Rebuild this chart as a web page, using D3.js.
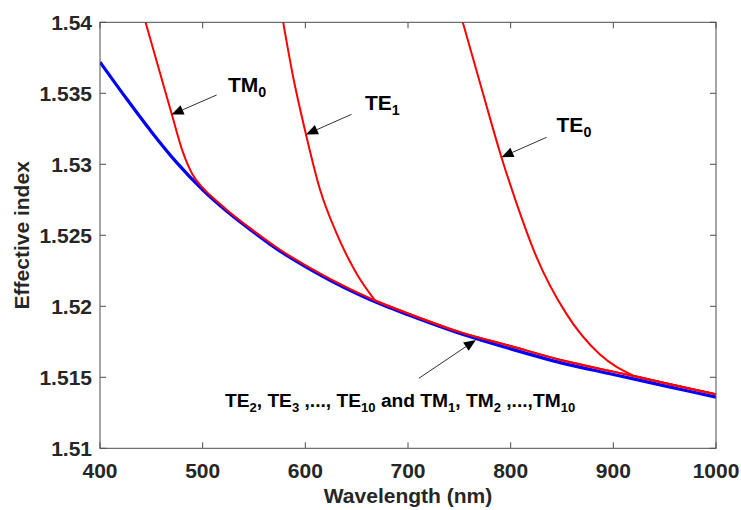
<!DOCTYPE html>
<html>
<head>
<meta charset="utf-8">
<script src="https://cdn.jsdelivr.net/npm/d3@7"></script>
<style>
  html, body { margin: 0; padding: 0; background: #fff; }
  svg { display: block; font-family: "Liberation Sans", Arial, sans-serif; }
</style>
</head>
<body>
<svg id="chart" width="741" height="510"></svg>
<script>
// Higher-order modes (TE2..TE10, TM1..TM10) share one curve
const wavelength = [400, 425, 450, 475, 500, 525, 550, 575, 600, 625, 650, 675, 700, 750, 800, 850, 900, 950, 1000];
const higherIndex = [1.5372, 1.5347, 1.5323, 1.5301, 1.5282, 1.5266, 1.5252, 1.5239, 1.5228, 1.5218, 1.5209, 1.5201, 1.5194, 1.5181, 1.5170, 1.5160, 1.5152, 1.5144, 1.5136];

// Common tail followed by TM0, TE1 and TE0 after they join the lower branch
const tailWavelength = [506, 525, 550, 575, 600, 625, 650, 675, 700, 750, 800, 850, 900, 950, 1000];
const tailIndex = [1.5279, 1.5267, 1.5253, 1.5240, 1.5229, 1.5219, 1.5210, 1.5202, 1.5195, 1.5182, 1.5172, 1.5162, 1.5154, 1.5146, 1.5138];

// Steep branches of the low-order modes, ending where each meets the tail
const tm0Wavelength = [442, 457, 470, 481, 490, 500, 506];
const tm0Index = [1.5406, 1.5368, 1.5335, 1.5308, 1.5293, 1.52835, 1.5279];
const te1Wavelength = [577, 588, 600, 614, 630, 650, 668];
const te1Index = [1.5406, 1.5362, 1.5323, 1.5283, 1.5252, 1.5223, 1.5204];
const te0Wavelength = [751, 773, 791, 806, 825, 854, 887, 920];
const te0Index = [1.5406, 1.5350, 1.5305, 1.5272, 1.5235, 1.5195, 1.5166, 1.5151];

const xTicks = [400, 500, 600, 700, 800, 900, 1000];
const yTicks = [1.51, 1.515, 1.52, 1.525, 1.53, 1.535, 1.54];
const yTickLabels = ["1.51", "1.515", "1.52", "1.525", "1.53", "1.535", "1.54"];

// Arrow annotations: [tail wavelength, tail index, tip wavelength, tip index]
const arrows = [
  [513.6, 1.53488, 469.7, 1.53350],
  [645.0, 1.53352, 600.6, 1.53210],
  [835.0, 1.53190, 791.0, 1.53050],
  [710.6, 1.51493, 766.1, 1.51763]
];

const svg = d3.select("#chart");
const plotLeft = 100, plotRight = 716, plotTop = 22.3, plotBottom = 448.3;

const x = d3.scaleLinear().domain([400, 1000]).range([plotLeft, plotRight]);
const y = d3.scaleLinear().domain([1.51, 1.54]).range([plotBottom, plotTop]);

svg.append("defs").append("clipPath").attr("id", "plotClip")
  .append("rect").attr("x", plotLeft).attr("y", plotTop)
  .attr("width", plotRight - plotLeft).attr("height", plotBottom - plotTop);

const line = d3.line().x(d => x(d[0])).y(d => y(d[1])).curve(d3.curveMonotoneX);
const zip = (a, b) => a.map((v, i) => [v, b[i]]);

const plot = svg.append("g").attr("clip-path", "url(#plotClip)");

plot.append("path")
  .attr("d", line(zip(wavelength, higherIndex)))
  .attr("fill", "none").attr("stroke", "#0000ff").attr("stroke-width", 3.2);

function modePaths(wl, idx) {
  const steep = zip(wl, idx);
  const join = steep[steep.length - 1];
  const tail = [join].concat(zip(tailWavelength, tailIndex).filter(p => p[0] > join[0] + 2));
  [steep, tail].forEach(seg => {
    plot.append("path")
      .attr("d", line(seg))
      .attr("fill", "none").attr("stroke", "#ff0000").attr("stroke-width", 2)
      .attr("stroke-linejoin", "round");
  });
}
modePaths(tm0Wavelength, tm0Index);
modePaths(te1Wavelength, te1Index);
modePaths(te0Wavelength, te0Index);

// Box and ticks (inside, on all four sides)
const axisColor = "#4d4d4d";
svg.append("rect").attr("x", plotLeft).attr("y", plotTop)
  .attr("width", plotRight - plotLeft).attr("height", plotBottom - plotTop)
  .attr("fill", "none").attr("stroke", axisColor).attr("stroke-width", 1);

const tickLen = 6;
xTicks.forEach(t => {
  svg.append("line").attr("x1", x(t)).attr("x2", x(t)).attr("y1", plotBottom).attr("y2", plotBottom - tickLen)
    .attr("stroke", axisColor);
  svg.append("line").attr("x1", x(t)).attr("x2", x(t)).attr("y1", plotTop).attr("y2", plotTop + tickLen)
    .attr("stroke", axisColor);
  svg.append("text").attr("x", x(t)).attr("y", plotBottom + 30)
    .attr("text-anchor", "middle").attr("font-size", 21).attr("font-weight", "bold")
    .attr("fill", "#262626").text(t);
});
yTicks.forEach((t, i) => {
  svg.append("line").attr("x1", plotLeft).attr("x2", plotLeft + tickLen).attr("y1", y(t)).attr("y2", y(t))
    .attr("stroke", axisColor);
  svg.append("line").attr("x1", plotRight).attr("x2", plotRight - tickLen).attr("y1", y(t)).attr("y2", y(t))
    .attr("stroke", axisColor);
  svg.append("text").attr("x", plotLeft - 8).attr("y", y(t) + 7.5)
    .attr("text-anchor", "end").attr("font-size", 21).attr("font-weight", "bold")
    .attr("fill", "#262626").text(yTickLabels[i]);
});

svg.append("text").attr("x", (plotLeft + plotRight) / 2).attr("y", 503)
  .attr("text-anchor", "middle").attr("font-size", 21).attr("font-weight", "bold")
  .attr("fill", "#262626").text("Wavelength (nm)");
svg.append("text")
  .attr("transform", `translate(29,${(plotTop + plotBottom) / 2}) rotate(-90)`)
  .attr("text-anchor", "middle").attr("font-size", 21).attr("font-weight", "bold")
  .attr("fill", "#262626").text("Effective index");

// Arrows with filled triangular heads
arrows.forEach(([x0, y0, x1, y1]) => {
  const ax = x(x0), ay = y(y0), bx = x(x1), by = y(y1);
  const ang = Math.atan2(by - ay, bx - ax);
  const headLen = 12, headW = 5;
  const baseX = bx - headLen * Math.cos(ang), baseY = by - headLen * Math.sin(ang);
  svg.append("line").attr("x1", ax).attr("y1", ay).attr("x2", baseX).attr("y2", baseY)
    .attr("stroke", "#333").attr("stroke-width", 1);
  const px = -Math.sin(ang) * headW, py = Math.cos(ang) * headW;
  svg.append("path")
    .attr("d", `M${bx},${by}L${baseX + px},${baseY + py}L${baseX - px},${baseY - py}Z`)
    .attr("fill", "#000");
});

// Mode labels with subscripts
function label(wl, n, parts, size) {
  const t = svg.append("text").attr("x", x(wl)).attr("y", y(n))
    .attr("font-size", size).attr("font-weight", "bold").attr("fill", "#000");
  let low = false;
  parts.forEach(([str, sub]) => {
    const s = t.append("tspan").text(str);
    if (sub && !low) { s.attr("dy", 5).attr("font-size", size * 0.68); low = true; }
    else if (sub) { s.attr("font-size", size * 0.68); }
    else if (low) { s.attr("dy", -5); low = false; }
  });
}
label(524.7, 1.53511, [["TM"], ["0", true]], 21);
label(658.0, 1.53382, [["TE"], ["1", true]], 21);
label(844.7, 1.53230, [["TE"], ["0", true]], 21);
label(521.7, 1.51293, [
  ["TE"], ["2", true], [", TE"], ["3", true], [" ,..., TE"], ["10", true],
  [" and TM"], ["1", true], [", TM"], ["2", true], [" ,...,TM"], ["10", true]
], 19.2);
</script>
</body>
</html>
